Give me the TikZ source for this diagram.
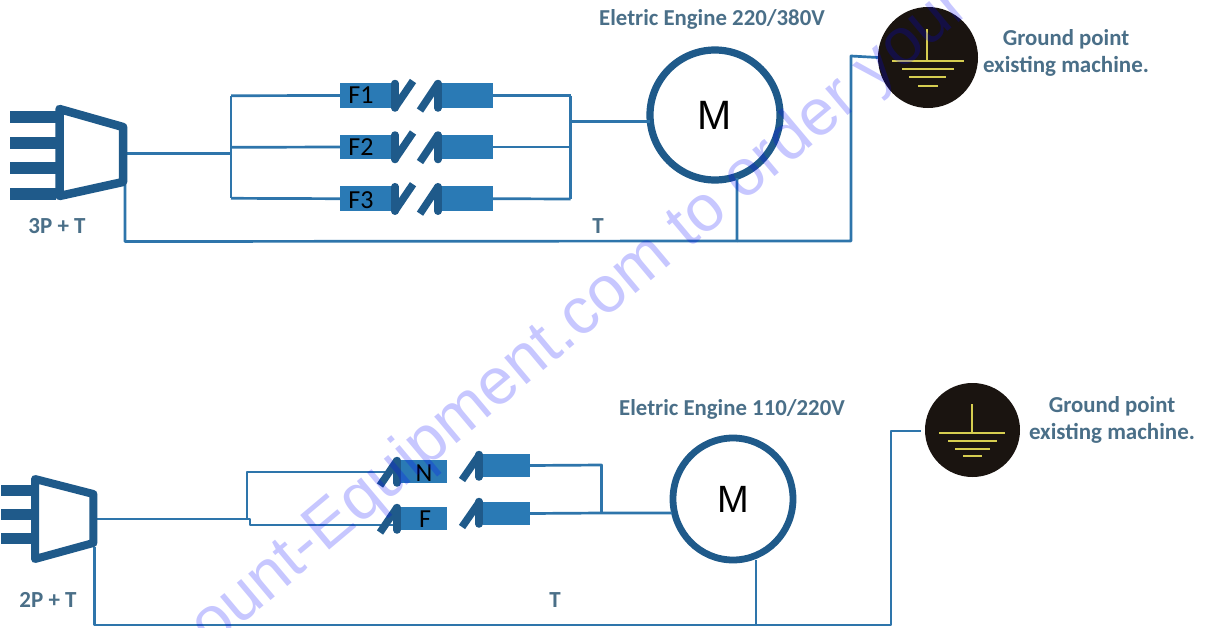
\documentclass[tikz,border=0pt]{standalone}
\usepackage{fontspec}
\setmainfont{Carlito}
\newfontfamily\wmfont{Liberation Sans}
\newfontfamily\mfont{Liberation Sans}
\usetikzlibrary{shapes.geometric}
\definecolor{wirec}{RGB}{46,117,171}
\definecolor{darkc}{RGB}{31,90,138}
\definecolor{fusec}{RGB}{42,122,181}
\definecolor{labelc}{RGB}{74,111,136}
\definecolor{gndc}{RGB}{26,20,16}
\definecolor{yelc}{RGB}{214,205,80}
\tikzset{
  x=1pt,y=-1pt,
  wire/.style={draw=wirec,line width=2.7pt,line join=round},
  plugbody/.style={draw=darkc,line width=8.5pt,line join=round,fill=white},
  pin/.style={fill=darkc,draw=none,inner sep=0,minimum height=12pt,minimum width=#1},
  fuse/.style={fill=fusec,draw=none,inner sep=0,minimum height=24.5pt,minimum width=#1},
  bar/.style={draw=darkc,line width=7.5pt,line cap=round},
  slash/.style={draw=darkc,line width=7.5pt},
  motor/.style={ellipse,draw=darkc,line width=7.2pt,fill=white,inner sep=0,font=\mfont\fontsize{#1}{#1}\selectfont},
  gnd/.style={ellipse,fill=gndc,draw=none,inner sep=0},
  gline/.style={draw=yelc,line width=2pt},
  lbl/.style={text=labelc,inner sep=0,font=\bfseries\fontsize{#1}{#1}\selectfont,align=center},
  fuselbl/.style={text=black,inner sep=0,font=\fontsize{26}{26}\selectfont},
}
\begin{document}
\begin{tikzpicture}
\useasboundingbox (0,0) rectangle (1208,627);
\clip (0,0) rectangle (1208,627);
\fill[white] (0,0) rectangle (1208,627);

% ---------- upper circuit ----------
\coordinate (p1out) at (124,153.7);
\coordinate (p1gnd) at (125,185);
\coordinate (j1) at (231,153.7);
\coordinate (j1a) at (231,95.7);
\coordinate (j1b) at (231,147.3);
\coordinate (j1c) at (231,198.3);
\coordinate (r1) at (570.7,121.7);
\coordinate (r1a) at (570.7,95.5);
\coordinate (r1b) at (570.7,147);
\coordinate (r1c) at (570.7,199);
\coordinate (g1a) at (125,241.5);
\coordinate (g1b) at (737,241);
\coordinate (g1c) at (851,241);
\coordinate (g1d) at (851,56);
\coordinate (m1in) at (650,121.7);
\coordinate (m1gnd) at (737,178);

\node[fuse=52pt] (fa1) at (366,95.5) {};
\node[fuse=52pt] (fa2) at (366,147) {};
\node[fuse=52pt] (fa3) at (366,198.7) {};
\node[fuse=55pt] (fb1) at (465.5,95.5) {};
\node[fuse=55pt] (fb2) at (465.5,147) {};
\node[fuse=55pt] (fb3) at (465.5,198.7) {};
\node[motor=41pt,minimum width=130pt,minimum height=130pt] (m1) at (715,115) {M};
\node[gnd,minimum width=100pt,minimum height=101pt] (g1) at (928,57.5) {};

\draw[wire] (p1out) -- (j1);
\draw[wire] (j1a) -- (j1c);
\draw[wire] (j1a) -- (fa1.west);
\draw[wire] (j1b) -- (fa2.west);
\draw[wire] (j1c) -- (fa3.west);
\draw[wire] (fb1.east) -- (r1a);
\draw[wire] (fb2.east) -- (r1b);
\draw[wire] (fb3.east) -- (r1c);
\draw[wire] (r1a) -- (r1c);
\draw[wire] (r1) -- (m1in);
\draw[wire] (p1gnd) -- (g1a) -- (g1b) -- (m1gnd);
\draw[wire] (g1b) -- (g1c) -- (g1d) -- (g1.west);

\foreach \y in {95.5,147,198.7}{
  \draw[bar] (395,\y-12) -- (395,\y+12.5);
  \draw[slash] (395,\y+12) -- (413,\y-14.5);
  \draw[bar] (438,\y-12) -- (438,\y+12.5);
  \draw[slash] (438,\y-12) -- (420,\y+15);
}
\node[fuselbl] (tf1) at (361,95.5) {F1};
\node[fuselbl] (tf2) at (361,147.5) {F2};
\node[fuselbl] (tf3) at (361,200) {F3};

\foreach \y/\n in {117/a,142.5/b,168.3/c,194.2/d}
  \node[pin=46pt] (pina\n) at (33,\y) {};
\draw[plugbody] (59.5,109) -- (123,127) -- (123,182) -- (59.5,196) -- cycle;

\foreach \a/\b in {{927,29}/{927,61},{892,61}/{963.5,61},{902,69}/{954,69},{909,77}/{946,77},{918,85.5}/{938,85.5}}
  \draw[gline] (\a) -- (\b);

\node[lbl=23pt] (t3p) at (57,226) {3P + T};
\node[lbl=23pt] (tt1) at (598,226) {T};
\node[lbl=22.8pt] (te1) at (712,19.5) {Eletric Engine 220/380V};
\node[lbl=22.8pt] (tg1a) at (1066,39.5) {Ground point};
\node[lbl=23pt] (tg1b) at (1066,66.5) {existing machine.};

% ---------- lower circuit ----------
\coordinate (p2out) at (94,519);
\coordinate (p2gnd) at (94.3,547);
\coordinate (j2) at (247,519);
\coordinate (j2a) at (247,472);
\coordinate (j2s) at (250,519);
\coordinate (j2t) at (250,525);
\coordinate (s2a) at (395,472);
\coordinate (s2b) at (395,525);
\coordinate (r2a) at (601.5,465);
\coordinate (r2b) at (601.5,513);
\coordinate (m2in) at (672,513);
\coordinate (m2gnd) at (756,560);
\coordinate (g2a) at (94.3,625);
\coordinate (g2b) at (756,625);
\coordinate (g2c) at (891,625);
\coordinate (g2d) at (891,431);
\coordinate (g2e) at (921,431);

\node[fuse=47pt,minimum height=23pt] (fc1) at (423.5,471.5) {};
\node[fuse=47pt,minimum height=23pt] (fc2) at (423.5,518.5) {};
\node[fuse=47pt,minimum height=23pt] (fd1) at (506.5,465.5) {};
\node[fuse=47pt,minimum height=23pt] (fd2) at (506.5,513.5) {};
\node[motor=38pt,line width=6.8pt,minimum width=120pt,minimum height=122pt] (m2) at (733,499) {M};
\node[gnd,minimum width=95pt,minimum height=94pt] (g2) at (972.5,430) {};

\draw[wire] (p2out) -- (j2s) -- (j2t) -- (s2b);
\draw[wire] (j2) -- (j2a) -- (s2a);
\draw[wire] (fd1.east) -- (r2a) -- (r2b);
\draw[wire] (fd2.east) -- (r2b) -- (m2in);
\draw[wire] (p2gnd) -- (g2a) -- (g2b) -- (m2gnd);
\draw[wire] (g2b) -- (g2c) -- (g2d) -- (g2e);

\foreach \y in {471.5,518.5}{
  \draw[bar] (397,\y-11) -- (397,\y+11.5);
  \draw[slash] (397,\y-11) -- (380,\y+14);
}
\foreach \y in {465.5,512.5}{
  \draw[bar] (479,\y-11) -- (479,\y+11.5);
  \draw[slash] (479,\y-10) -- (462,\y+14.5);
}
\node[fuselbl] (tn) at (424,473) {N};
\node[fuselbl] (tf) at (425,519) {F};

\foreach \y/\n in {490.8/a,514.6/b,538/c}
  \node[pin=32pt,minimum height=11pt] (pinb\n) at (17,\y) {};
\draw[plugbody,line width=8pt] (35,479) -- (93.3,494) -- (93.3,543) -- (35,559) -- cycle;

\foreach \a/\b in {{972,404}/{972,433.3},{939,433.3}/{1005,433.3},{948,441}/{997,441},{955,448.5}/{990,448.5},{963,456}/{982,456}}
  \draw[gline] (\a) -- (\b);

\node[lbl=23pt] (t2p) at (48,600) {2P + T};
\node[lbl=23pt] (tt2) at (555,600) {T};
\node[lbl=22.8pt] (te2) at (732,409.5) {Eletric Engine 110/220V};
\node[lbl=22.8pt] (tg2a) at (1112,406.5) {Ground point};
\node[lbl=23pt] (tg2b) at (1112,433.5) {existing machine.};

% ---------- watermark ----------
\node[rotate=40,anchor=base west,inner sep=0,text=blue,text opacity=.22,
  font=\wmfont\fontsize{65.5}{65.5}\selectfont] (wm) at (186,671) {count-Equipment.com to order your n};
\end{tikzpicture}
\end{document}
